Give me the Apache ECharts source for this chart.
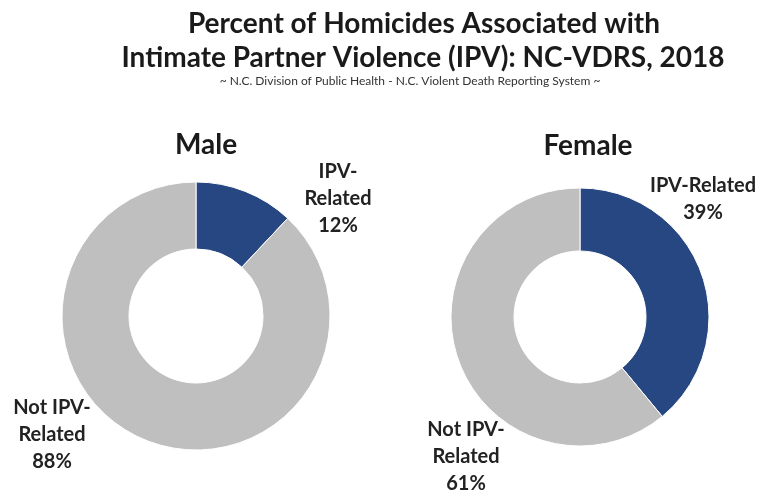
<!DOCTYPE html>
<html>
<head>
<meta charset="utf-8">
<script src="https://cdn.jsdelivr.net/npm/echarts@6/dist/echarts.min.js"></script>
<style>html,body{margin:0;padding:0;background:#fff;}#c{width:764px;height:491px;}</style>
</head>
<body>
<div id="c"></div>
<script>
// ---- data ----
const titleLines = ['Percent of Homicides Associated with', 'Intimate Partner Violence (IPV): NC-VDRS, 2018'];
const subtitle = '~ N.C. Division of Public Health - N.C. Violent Death Reporting System ~';
const categories = ['IPV-Related', 'Not IPV-Related'];
const groups = ['Male', 'Female'];
const maleValues = [12, 88];
const femaleValues = [39, 61];
const maleLabelText = ['IPV-\nRelated', 'Not IPV-\nRelated'];
const femaleLabelText = ['IPV-Related', 'Not IPV-\nRelated'];

const colors = ['#264781', '#bfbfbf'];
const FONT = 'Lato';

// label anchor positions (layout only)
const labelPos = [
  [[338, 199], [52, 435]],
  [[703, 199], [466, 457]]
];

function mkSeries(idx, values, texts, center, radius) {
  return {
    type: 'pie',
    name: groups[idx],
    center: center,
    radius: radius,
    startAngle: 90,
    clockwise: true,
    silent: true,
    animation: false,
    avoidLabelOverlap: false,
    itemStyle: { borderColor: '#ffffff', borderWidth: 1 },
    labelLine: { show: false },
    label: {
      show: true,
      position: 'inside',
      fontFamily: FONT,
      fontWeight: 'bold',
      fontSize: 20,
      lineHeight: 27,
      color: '#222',
      align: 'center',
      overflow: 'none',
      formatter: p => texts[p.dataIndex] + '\n' + p.value + '%'
    },
    labelLayout: p => ({
      x: labelPos[idx][p.dataIndex][0],
      y: labelPos[idx][p.dataIndex][1],
      align: 'center',
      verticalAlign: 'middle'
    }),
    data: categories.map((c, i) => ({ name: c, value: values[i], itemStyle: { color: colors[i] } }))
  };
}

const chart = echarts.init(document.getElementById('c'), null, { renderer: 'canvas' });
chart.setOption({
  backgroundColor: '#ffffff',
  animation: false,
  title: [
    { text: titleLines[0], left: 419, top: 5, textAlign: 'center',
      textStyle: { fontFamily: FONT, fontWeight: 'bold', fontSize: 28, color: '#1a1a1a' } },
    { text: titleLines[1], left: 418, top: 39, textAlign: 'center',
      textStyle: { fontFamily: FONT, fontWeight: 'bold', fontSize: 28, color: '#1a1a1a' } },
    { text: subtitle, left: 405, top: 70, textAlign: 'center',
      textStyle: { fontFamily: FONT, fontWeight: 'normal', fontSize: 12, color: '#333' } },
    { text: groups[0], left: 201, top: 126, textAlign: 'center',
      textStyle: { fontFamily: FONT, fontWeight: 'bold', fontSize: 28, color: '#1a1a1a' } },
    { text: groups[1], left: 583, top: 127, textAlign: 'center',
      textStyle: { fontFamily: FONT, fontWeight: 'bold', fontSize: 28, color: '#1a1a1a' } }
  ],
  series: [
    mkSeries(0, maleValues, maleLabelText, [196, 316], [67, 134]),
    mkSeries(1, femaleValues, femaleLabelText, [580, 317], [66, 129])
  ]
});
</script>
</body>
</html>
